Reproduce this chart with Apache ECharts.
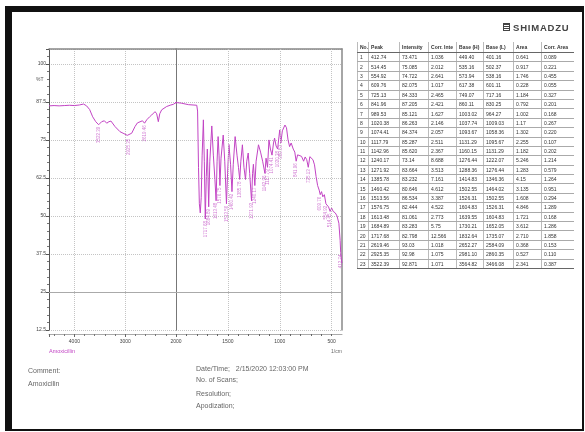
<!DOCTYPE html>
<html>
<head>
<meta charset="utf-8">
<script src="https://cdn.jsdelivr.net/npm/echarts@6/dist/echarts.min.js"></script>
<style>
html, body { margin: 0; padding: 0; background: #fff; }
#page { position: relative; width: 585px; height: 432px; overflow: hidden; font-family: "Liberation Sans", Arial, sans-serif; }
#chart { position: absolute; left: 0; top: 0; width: 585px; height: 432px; }
#frame { position: absolute; left: 5px; top: 6px; width: 570px; height: 417px; border-style: solid; border-color: #111; border-width: 6px 2px 2px 7px; pointer-events: none; }
#logo { position: absolute; left: 503px; top: 21px; height: 12px; display: flex; align-items: center; }
#logo .ico { width: 7px; height: 8px; border: 1px solid #444; box-sizing: border-box; margin-right: 3px;
  background: repeating-linear-gradient(#444 0 1px, #fff 1px 2px); }
#logo span { font-size: 9.5px; font-weight: bold; color: #444; letter-spacing: 0.8px; }
#peaks { position: absolute; left: 357px; top: 42px; border-collapse: collapse; font-size: 5px; color: #333; table-layout: fixed; }
#peaks th, #peaks td { padding: 0 0 0 2px; text-align: left; white-space: nowrap; overflow: hidden; border-left: 1px solid #bbb; }
#peaks th { height: 10px; font-weight: bold; border-bottom: 1px solid #666; }
#peaks td { height: 8.4px; border-bottom: 1px solid #aaa; }
#peaks tr:last-child td { border-bottom: 1px solid #666; }
.info { position: absolute; font-size: 7px; color: #666; white-space: nowrap; }
</style>
</head>
<body>
<div id="page">
  <div id="chart"></div>
  <div id="frame"></div>
  <div id="logo"><div class="ico"></div><span>SHIMADZU</span></div>
  <table id="peaks"></table>
  <div class="info" style="left:28px;top:367px">Comment:</div>
  <div class="info" style="left:28px;top:380px">Amoxicilin</div>
  <div class="info" style="left:196px;top:365px">Date/Time;&nbsp;&nbsp;&nbsp;2/15/2020 12:03:00 PM</div>
  <div class="info" style="left:196px;top:376px">No. of Scans;</div>
  <div class="info" style="left:196px;top:390px">Resolution;</div>
  <div class="info" style="left:196px;top:402px">Apodization;</div>
</div>
<script>
// spectrum, wavenumber (1/cm) and %T
const wave = [4500, 4400, 4300, 4200, 4100, 4000, 3900, 3820, 3760, 3700, 3640, 3580, 3522.39, 3463, 3410, 3364, 3320, 3280, 3201, 3102, 3004, 2960, 2925.35, 2872, 2807, 2760, 2722, 2660, 2619.46, 2577, 2520, 2478, 2413, 2380, 2348, 2320, 2282, 2183, 2100, 2053, 2000,
  1950, 1880, 1800, 1792, 1783, 1775, 1766, 1757, 1748, 1736, 1727, 1717.68, 1708, 1698, 1684.89, 1674, 1655, 1640, 1625, 1613.48, 1604, 1594, 1585, 1576.75, 1566, 1545, 1530, 1513.56, 1503, 1490,
  1474, 1460.42, 1448, 1430, 1412, 1398, 1385.78, 1375, 1360, 1345, 1330, 1318, 1304, 1290, 1271.92, 1262, 1254, 1240.17, 1228, 1205, 1185, 1165, 1142.96, 1132, 1117.79, 1104, 1090, 1074.41,
  1060, 1050, 1035, 1020.38, 1008, 1000, 989.53, 975, 950, 935, 920, 905, 890, 870, 855, 841.96, 828, 810, 790, 770, 755, 740, 725.13, 710, 695, 680, 665, 650, 635, 620, 609.76, 597, 585,
  570, 554.92, 542, 530, 514.45, 500, 485, 465, 448, 430, 418, 412.74, 406, 400];
const trans = [86.2, 86.3, 86.2, 86.3, 86.4, 86.3, 86.5, 86.8, 86.2, 85.0, 82.6, 81.0, 80.0, 81.0, 81.3, 80.5, 81.0, 81.2, 79.4, 77.7, 76.9, 76.5, 76.1, 77.2, 79.4, 80.6, 81.0, 81.3, 80.5, 81.6, 82.6, 83.2, 84.3, 83.6, 81.0, 83.6, 84.9, 86.0, 86.5, 86.7, 87.3,
  87.1, 86.6, 86.4, 84.5, 66, 54, 51, 56, 70, 81.6, 68, 49, 63, 72, 53, 68, 79.6, 70, 62, 55, 68, 76.1, 70, 60, 69, 76.6, 68, 54, 64, 73.5,
  67, 58, 67, 76.1, 70, 66, 62, 68, 73.4, 66, 62, 68, 70.7, 64, 55, 64, 67, 60, 68, 73.4, 71, 68, 64, 69, 66, 75, 72, 70,
  74, 75.6, 73, 72, 76, 78.3, 74, 78, 79.9, 79, 75, 72.8, 74, 72, 71, 68, 70.1, 70.5, 69.6, 68, 69.4, 68.5, 66, 69.5, 69, 68.5, 66.8, 63, 60, 58.5, 57, 58, 56.3,
  57, 54, 54.5, 53, 51.5, 52.6, 51.5, 51, 50, 47.6, 42, 38, 35.5, 34.5];

// peak table
const peakNo = [1, 2, 3, 4, 5, 6, 7, 8, 9, 10, 11, 12, 13, 14, 15, 16, 17, 18, 19, 20, 21, 22, 23];
const peakWave = [412.74, 514.45, 554.92, 609.76, 725.13, 841.96, 989.53, 1020.38, 1074.41, 1117.79, 1142.96, 1240.17, 1271.92, 1385.78, 1460.42, 1513.56, 1576.75, 1613.48, 1684.89, 1717.68, 2619.46, 2925.35, 3522.39];
const peakInt = ['73.471', '75.085', '74.722', '82.075', '84.333', '87.205', '85.121', '86.263', '84.374', '85.287', '85.620', '73.14', '83.664', '83.232', '80.646', '86.534', '82.444', '81.061', '83.283', '82.798', '93.03', '92.98', '92.871'];
const corrInt = ['1.036', '2.012', '2.641', '1.017', '2.465', '2.421', '1.627', '2.146', '2.057', '2.511', '2.367', '8.688', '3.513', '7.161', '4.612', '3.387', '4.522', '2.773', '5.75', '12.566', '1.018', '1.075', '1.071'];
const baseH = ['449.40', '535.16', '573.94', '617.38', '749.07', '860.11', '1003.02', '1037.74', '1093.67', '1131.29', '1160.15', '1276.44', '1288.36', '1414.83', '1502.55', '1526.31', '1604.83', '1639.55', '1730.21', '1832.64', '2652.27', '2981.10', '3564.82'];
const baseL = ['401.16', '502.37', '538.16', '601.11', '717.16', '830.25', '964.27', '1009.03', '1058.36', '1095.67', '1131.29', '1222.07', '1276.44', '1346.36', '1464.02', '1502.55', '1526.31', '1604.83', '1652.05', '1735.07', '2584.09', '2860.35', '3466.08'];
const peakArea = ['0.641', '0.917', '1.746', '0.228', '1.184', '0.792', '1.002', '1.17', '1.302', '2.255', '1.182', '5.246', '1.283', '4.15', '3.135', '1.608', '4.846', '1.721', '3.612', '2.710', '0.368', '0.527', '2.341'];
const corrArea = ['0.089', '0.221', '0.455', '0.055', '0.327', '0.201', '0.168', '0.267', '0.220', '0.107', '0.202', '1.214', '0.579', '1.264', '0.951', '0.294', '1.289', '0.168', '1.286', '1.858', '0.153', '0.110', '0.387'];
const tableHead = ['No.', 'Peak', 'Intensity', 'Corr. Inte', 'Base (H)', 'Base (L)', 'Area', 'Corr. Area'];
const colWidth = [10, 31, 29, 28, 27, 30, 28, 32];

// axes
const yLabels = [12.5, 25, 37.5, 50, 62.5, 75, 87.5, 100];
const gridWaveB = [500, 1000, 1500];

// build table
let html = '<colgroup>' + colWidth.map(w => '<col style="width:' + w + 'px">').join('') + '</colgroup>';
html += '<tr>' + tableHead.map(h => '<th>' + h + '</th>').join('') + '</tr>';
peakNo.forEach((n, i) => {
  const row = [n, peakWave[i].toFixed(2), peakInt[i], corrInt[i], baseH[i], baseL[i], peakArea[i], corrArea[i]];
  html += '<tr>' + row.map(c => '<td>' + c + '</td>').join('') + '</tr>';
});
document.getElementById('peaks').innerHTML = html;

const spec = wave.map((w, i) => [w, trans[i]]);
const peakPts = peakWave.map(w => [w, trans[wave.indexOf(w)]]);
const lineColor = '#c244c4';

function yAx(gi, show) {
  return {
    type: 'value', gridIndex: gi, min: 12.5, max: 104.9, interval: 12.5,
    axisLine: { show: show, lineStyle: { color: '#555' } },
    axisTick: { show: show, length: 3, lineStyle: { color: '#555' } },
    minorTick: { show: show, splitNumber: 5, length: 2, lineStyle: { color: '#777' } },
    axisLabel: { show: show, fontSize: 5, color: '#444', margin: 3, showMaxLabel: false,
      formatter: v => (yLabels.indexOf(v) >= 0 ? String(v) : '') },
    splitLine: { show: true, lineStyle: { color: '#c4c4c4', type: 'dotted' } }
  };
}
function frameAx(gi, pos, mn, mx) {
  return {
    type: 'value', gridIndex: gi, position: pos, min: mn, max: mx,
    axisLine: { show: true, lineStyle: { color: '#888', width: 1.5 } },
    axisTick: { show: false }, axisLabel: { show: false }, splitLine: { show: false }
  };
}

const option = {
  animation: false,
  grid: [
    { left: 49, top: 49, width: 127, height: 281 },
    { left: 176, top: 49, width: 166, height: 281 }
  ],
  xAxis: [
    { type: 'value', gridIndex: 0, inverse: true, min: 2000, max: 4500, interval: 1000, offset: 4,
      axisLine: { lineStyle: { color: '#aaa' } },
      axisTick: { length: 3, lineStyle: { color: '#666' } },
      minorTick: { show: true, splitNumber: 5, length: 2, lineStyle: { color: '#777' } },
      axisLabel: { fontSize: 5, color: '#444', margin: 5, showMinLabel: false, showMaxLabel: false,
        formatter: v => String(v) },
      splitLine: { show: true, lineStyle: { color: '#c4c4c4', type: 'dotted' } } },
    frameAx(0, 'top', 2000, 4500),
    { type: 'value', gridIndex: 1, inverse: true, min: 400, max: 2000, interval: 100, offset: 4,
      axisLine: { lineStyle: { color: '#aaa' } },
      axisTick: { length: 2, lineStyle: { color: '#666' } },
      axisLabel: { fontSize: 5, color: '#444', margin: 5, showMinLabel: false, showMaxLabel: true,
        formatter: v => (v % 500 === 0 ? String(v) : '') },
      splitLine: { show: false } },
    frameAx(1, 'top', 400, 2000)
  ],
  yAxis: [
    yAx(0, true),
    Object.assign(yAx(1, false), { axisLine: { show: true, lineStyle: { color: '#777' } } }),
    frameAx(1, 'right', 12.5, 104.9)
  ],
  graphic: [
    { type: 'text', left: 36, top: 77, style: { text: '%T', fontSize: 5, fill: '#555' } },
    { type: 'text', left: 331, top: 349, style: { text: '1/cm', fontSize: 5, fill: '#666' } },
    { type: 'text', left: 49, top: 348, style: { text: 'Amoxicillin', fontSize: 5.5, fill: lineColor } }
  ],
  series: [
    { type: 'line', name: 'Amoxicillin', xAxisIndex: 0, yAxisIndex: 0, data: spec, symbol: 'none',
      lineStyle: { color: lineColor, width: 1 },
      markLine: { silent: true, symbol: 'none', label: { show: false },
        lineStyle: { color: '#aaa', type: 'solid', width: 1 }, data: [{ yAxis: 25 }] } },
    { type: 'line', name: 'Amoxicillin', xAxisIndex: 2, yAxisIndex: 1, data: spec, symbol: 'none',
      lineStyle: { color: lineColor, width: 1 },
      markLine: { silent: true, symbol: 'none', label: { show: false },
        lineStyle: { color: '#c4c4c4', type: 'dotted', width: 1 },
        data: gridWaveB.map(w => ({ xAxis: w })).concat([{ yAxis: 25, lineStyle: { color: '#aaa', type: 'solid' } }]) } },
    { type: 'scatter', xAxisIndex: 0, yAxisIndex: 0, data: peakPts.filter(p => p[0] > 2000), symbolSize: 0.1,
      itemStyle: { color: lineColor },
      label: { show: true, position: 'bottom', distance: 2, rotate: 90, align: 'right', verticalAlign: 'middle',
        fontSize: 4.5, color: '#c65ac8', formatter: p => p.value[0].toFixed(2) } },
    { type: 'scatter', xAxisIndex: 2, yAxisIndex: 1, data: peakPts.filter(p => p[0] <= 2000), symbolSize: 0.1,
      itemStyle: { color: lineColor },
      label: { show: true, position: 'bottom', distance: 2, rotate: 90, align: 'right', verticalAlign: 'middle',
        fontSize: 4.5, color: '#c65ac8', formatter: p => p.value[0].toFixed(2) } }
  ]
};

const myChart = echarts.init(document.getElementById('chart'));
myChart.setOption(option);
</script>
</body>
</html>
